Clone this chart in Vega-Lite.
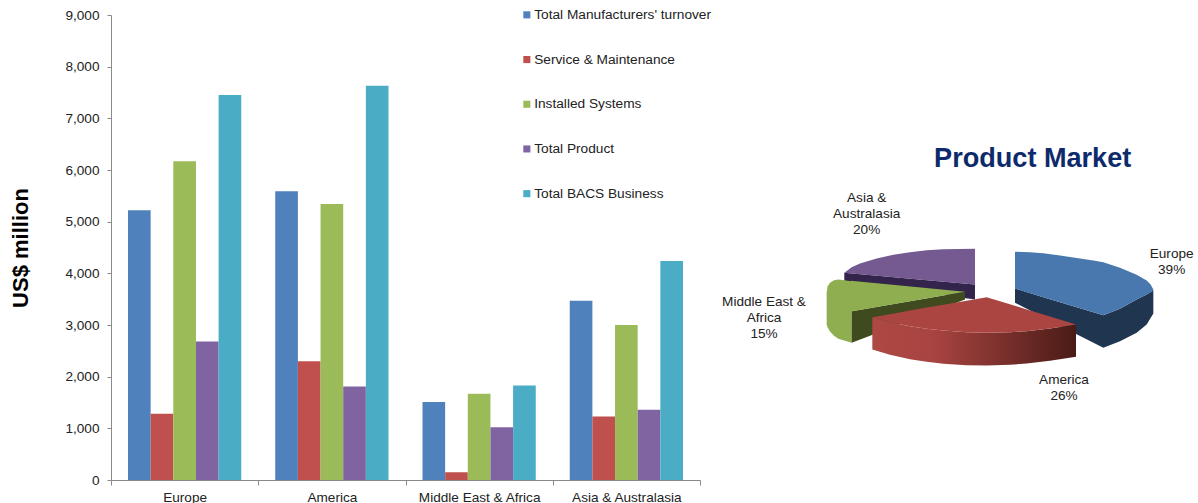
{
"$schema":"https://vega.github.io/schema/vega-lite/v6.json",
"background":"white",
"padding":{"left":9,"top":8,"right":0,"bottom":0},
"spacing":10,
"config":{"view":{"stroke":null},"font":"Liberation Sans"},
"datasets":{
"bars":[
{"region":"Europe","measure":"Total Manufacturers' turnover","value":5220},
{"region":"Europe","measure":"Service & Maintenance","value":1280},
{"region":"Europe","measure":"Installed Systems","value":6170},
{"region":"Europe","measure":"Total Product","value":2680},
{"region":"Europe","measure":"Total BACS Business","value":7450},
{"region":"America","measure":"Total Manufacturers' turnover","value":5590},
{"region":"America","measure":"Service & Maintenance","value":2300},
{"region":"America","measure":"Installed Systems","value":5340},
{"region":"America","measure":"Total Product","value":1810},
{"region":"America","measure":"Total BACS Business","value":7630},
{"region":"Middle East & Africa","measure":"Total Manufacturers' turnover","value":1510},
{"region":"Middle East & Africa","measure":"Service & Maintenance","value":150},
{"region":"Middle East & Africa","measure":"Installed Systems","value":1670},
{"region":"Middle East & Africa","measure":"Total Product","value":1020},
{"region":"Middle East & Africa","measure":"Total BACS Business","value":1830},
{"region":"Asia & Australasia","measure":"Total Manufacturers' turnover","value":3470},
{"region":"Asia & Australasia","measure":"Service & Maintenance","value":1230},
{"region":"Asia & Australasia","measure":"Installed Systems","value":3000},
{"region":"Asia & Australasia","measure":"Total Product","value":1360},
{"region":"Asia & Australasia","measure":"Total BACS Business","value":4240}
],
"pie":[
{"part":"asiaSide","x":403,"y":430,"y2":455},{"part":"asiaSide","x":795,"y":465,"y2":510},
{"part":"asiaTop","x":403,"y":430,"y2":430},{"part":"asiaTop","x":425,"y":413,"y2":432},{"part":"asiaTop","x":450,"y":402,"y2":434},{"part":"asiaTop","x":500,"y":387,"y2":439},{"part":"asiaTop","x":550,"y":376,"y2":443},{"part":"asiaTop","x":600,"y":368,"y2":448},{"part":"asiaTop","x":650,"y":362,"y2":452},{"part":"asiaTop","x":700,"y":359,"y2":457},{"part":"asiaTop","x":795,"y":358,"y2":465},
{"part":"europeSide","x":915,"y":477,"y2":520},{"part":"europeSide","x":1000,"y":503,"y2":563},{"part":"europeSide","x":1100,"y":533,"y2":614},{"part":"europeSide","x":1180,"y":557,"y2":655},{"part":"europeSide","x":1230,"y":538,"y2":635},{"part":"europeSide","x":1280,"y":510,"y2":610},{"part":"europeSide","x":1310,"y":495,"y2":585},{"part":"europeSide","x":1330,"y":483,"y2":552},
{"part":"europeTop","x":915,"y":367,"y2":477},{"part":"europeTop","x":960,"y":368,"y2":491},{"part":"europeTop","x":1000,"y":371,"y2":503},{"part":"europeTop","x":1050,"y":378,"y2":518},{"part":"europeTop","x":1110,"y":387,"y2":536},{"part":"europeTop","x":1150,"y":393,"y2":548},{"part":"europeTop","x":1180,"y":398,"y2":557},{"part":"europeTop","x":1230,"y":415,"y2":538},{"part":"europeTop","x":1280,"y":436,"y2":510},{"part":"europeTop","x":1310,"y":453,"y2":495},{"part":"europeTop","x":1322,"y":465,"y2":489},{"part":"europeTop","x":1330,"y":480,"y2":483},
{"part":"meaInner","x":425,"y":545,"y2":640},{"part":"meaInner","x":765,"y":487,"y2":510},
{"part":"meaRim","x":350,"y":490,"y2":585},{"part":"meaRim","x":353,"y":470,"y2":594},{"part":"meaRim","x":360,"y":460,"y2":606},{"part":"meaRim","x":372,"y":452,"y2":619},{"part":"meaRim","x":385,"y":450,"y2":628},{"part":"meaRim","x":425,"y":455,"y2":640},
{"part":"meaTop","x":423,"y":454,"y2":546},{"part":"meaTop","x":765,"y":487,"y2":487},
{"part":"americaSide","x":487,"y":563,"y2":660},{"part":"americaSide","x":540,"y":578,"y2":676},{"part":"americaSide","x":600,"y":590,"y2":689},{"part":"americaSide","x":650,"y":598,"y2":697},{"part":"americaSide","x":700,"y":603,"y2":703},{"part":"americaSide","x":770,"y":608,"y2":707},{"part":"americaSide","x":830,"y":610,"y2":708},{"part":"americaSide","x":900,"y":608,"y2":706},{"part":"americaSide","x":950,"y":605,"y2":702},{"part":"americaSide","x":1020,"y":597,"y2":694},{"part":"americaSide","x":1098,"y":585,"y2":682},
{"part":"americaTop","x":487,"y":563,"y2":563},{"part":"americaTop","x":540,"y":554,"y2":578},{"part":"americaTop","x":600,"y":543,"y2":590},{"part":"americaTop","x":650,"y":534,"y2":598},{"part":"americaTop","x":700,"y":526,"y2":603},{"part":"americaTop","x":770,"y":514,"y2":608},{"part":"americaTop","x":830,"y":503,"y2":610},{"part":"americaTop","x":900,"y":524,"y2":608},{"part":"americaTop","x":950,"y":540,"y2":605},{"part":"americaTop","x":1020,"y":561,"y2":597},{"part":"americaTop","x":1098,"y":585,"y2":585}
],
"labels":[
{"region":"Europe","share":39,"label":"Europe\n39%","x":1385,"y":373},
{"region":"America","share":26,"label":"America\n26%","x":1062,"y":750},
{"region":"Middle East & Africa","share":15,"label":"Middle East &\nAfrica\n15%","x":162,"y":518},
{"region":"Asia & Australasia","share":20,"label":"Asia &\nAustralasia\n20%","x":470,"y":205}
],
"heading":[{"label":"Product Market","x":968,"y":88}]
},
"hconcat":[
{
"width":589,"height":465,
"data":{"name":"bars"},
"mark":{"type":"bar"},
"encoding":{
"x":{"field":"region","type":"nominal","sort":["Europe","America","Middle East & Africa","Asia & Australasia"],"scale":{"padding":0},
"axis":{"title":null,"labelAngle":0,"labelFontSize":13.6,"labelColor":"#222222","labelPadding":5,"tickBand":"extent","tickColor":"#8a8a8a","domainColor":"#8a8a8a","tickSize":5}},
"xOffset":{"field":"measure","type":"nominal","sort":["Total Manufacturers' turnover","Service & Maintenance","Installed Systems","Total Product","Total BACS Business"],"scale":{"paddingInner":0,"paddingOuter":0.75}},
"y":{"field":"value","type":"quantitative","scale":{"domain":[0,9000],"nice":false},
"axis":{"title":"US$ million","titleFontSize":22,"titleFontWeight":"bold","titleColor":"#000000","titlePadding":32,"grid":false,"format":",d","values":[0,1000,2000,3000,4000,5000,6000,7000,8000,9000],"labelFontSize":13.6,"labelColor":"#222222","labelPadding":8,"tickColor":"#8a8a8a","domainColor":"#8a8a8a","tickSize":4}},
"color":{"field":"measure","type":"nominal","sort":["Total Manufacturers' turnover","Service & Maintenance","Installed Systems","Total Product","Total BACS Business"],
"scale":{"domain":["Total Manufacturers' turnover","Service & Maintenance","Installed Systems","Total Product","Total BACS Business"],"range":["#4f81bd","#c0504d","#9bbb59","#8064a2","#4bacc6"]},
"legend":{"title":null,"orient":"none","legendX":409,"legendY":-7,"symbolType":"square","symbolSize":50,"symbolStrokeWidth":0,"labelFontSize":13.7,"labelColor":"#222222","labelOffset":0.5,"rowPadding":29.7,"labelLimit":300}}
}
},
{
"width":487,"height":465,
"layer":[
{"data":{"name":"pie"},"transform":[{"filter":"datum.part==='asiaSide'"}],"mark":{"type":"area","fill":"#32244a"},"encoding":{"x":{"field":"x","type":"quantitative","scale":{"domain":[3,1464],"nice":false,"zero":false},"axis":null},"y":{"field":"y","type":"quantitative","scale":{"domain":[-343.5,1051.5],"reverse":true,"nice":false,"zero":false},"axis":null},"y2":{"field":"y2"}}},
{"data":{"name":"pie"},"transform":[{"filter":"datum.part==='asiaTop'"}],"mark":{"type":"area","fill":"#755a91"},"encoding":{"x":{"field":"x","type":"quantitative"},"y":{"field":"y","type":"quantitative"},"y2":{"field":"y2"}}},
{"data":{"name":"pie"},"transform":[{"filter":"datum.part==='europeSide'"}],"mark":{"type":"area","fill":"#1f3550"},"encoding":{"x":{"field":"x","type":"quantitative"},"y":{"field":"y","type":"quantitative"},"y2":{"field":"y2"}}},
{"data":{"name":"pie"},"transform":[{"filter":"datum.part==='europeTop'"}],"mark":{"type":"area","fill":"#4878ae"},"encoding":{"x":{"field":"x","type":"quantitative"},"y":{"field":"y","type":"quantitative"},"y2":{"field":"y2"}}},
{"data":{"name":"pie"},"transform":[{"filter":"datum.part==='meaRim'"}],"mark":{"type":"area","fill":"#8eae50"},"encoding":{"x":{"field":"x","type":"quantitative"},"y":{"field":"y","type":"quantitative"},"y2":{"field":"y2"}}},
{"data":{"name":"pie"},"transform":[{"filter":"datum.part==='meaInner'"}],"mark":{"type":"area","fill":"#3f4a1f"},"encoding":{"x":{"field":"x","type":"quantitative"},"y":{"field":"y","type":"quantitative"},"y2":{"field":"y2"}}},
{"data":{"name":"pie"},"transform":[{"filter":"datum.part==='meaTop'"}],"mark":{"type":"area","fill":"#8eae50"},"encoding":{"x":{"field":"x","type":"quantitative"},"y":{"field":"y","type":"quantitative"},"y2":{"field":"y2"}}},
{"data":{"name":"pie"},"transform":[{"filter":"datum.part==='americaSide'"}],"mark":{"type":"area","fill":{"gradient":"linear","x1":0,"y1":0,"x2":1,"y2":0,"stops":[{"offset":0,"color":"#ad4844"},{"offset":0.3,"color":"#a84441"},{"offset":1,"color":"#4a1b16"}]}},"encoding":{"x":{"field":"x","type":"quantitative"},"y":{"field":"y","type":"quantitative"},"y2":{"field":"y2"}}},
{"data":{"name":"pie"},"transform":[{"filter":"datum.part==='americaTop'"}],"mark":{"type":"area","fill":"#ab4542"},"encoding":{"x":{"field":"x","type":"quantitative"},"y":{"field":"y","type":"quantitative"},"y2":{"field":"y2"}}},
{"data":{"name":"labels"},"mark":{"type":"text","fontSize":13.6,"color":"#222222","lineBreak":"\n","lineHeight":16,"align":"center","baseline":"middle"},"encoding":{"x":{"field":"x","type":"quantitative"},"y":{"field":"y","type":"quantitative"},"text":{"field":"label"}}},
{"data":{"name":"heading"},"mark":{"type":"text","fontSize":27.1,"fontWeight":"bold","color":"#0d2a6b","align":"center","baseline":"middle"},"encoding":{"x":{"field":"x","type":"quantitative"},"y":{"field":"y","type":"quantitative"},"text":{"field":"label"}}}
]
}
]
}
